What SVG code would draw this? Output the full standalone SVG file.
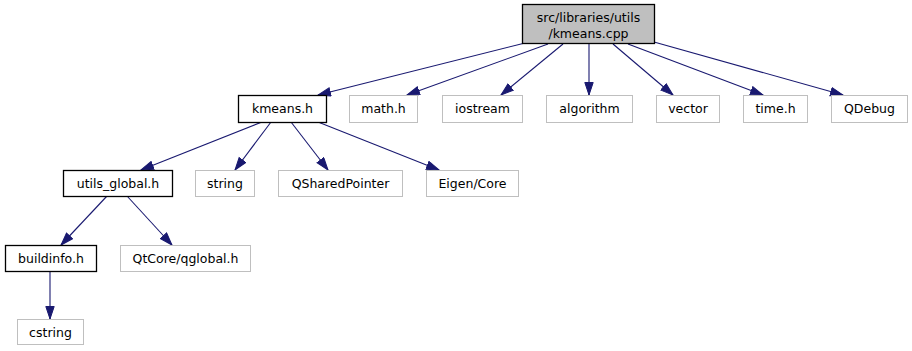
<svg xmlns="http://www.w3.org/2000/svg" width="912" height="351" viewBox="0 0 912 351">
<style>
  .bg { fill: #ffffff; }
  .n rect { fill: #ffffff; stroke: #bfbfbf; stroke-width: 1; }
  .n.main rect { stroke: #000000; stroke-width: 1.3; }
  .n.root rect { fill: #bfbfbf; stroke: #000000; stroke-width: 1.3; }
  text { font-family: "DejaVu Sans", "Liberation Sans", sans-serif; font-size: 12.5px; fill: #000000; text-anchor: middle; }
  #edges line { stroke: #191970; stroke-width: 1.1; fill: none; marker-end: url(#arrow); }
</style>
<defs>
  <marker id="arrow" markerUnits="userSpaceOnUse" markerWidth="14" markerHeight="10" refX="13" refY="4.7" orient="auto">
    <path d="M0.5,0.5 L13,4.7 L0.5,8.9 z" fill="#191970" stroke="#191970" stroke-width="1"/>
  </marker>
</defs>
<rect class="bg" x="0" y="0" width="912" height="351"/>

<g id="edges">
  <line x1="525" y1="43" x2="318" y2="95"/>
  <line x1="548" y1="44" x2="407" y2="95"/>
  <line x1="563" y1="44" x2="501" y2="95"/>
  <line x1="589" y1="44" x2="589" y2="95"/>
  <line x1="613" y1="44" x2="673" y2="95"/>
  <line x1="628" y1="44" x2="763" y2="95"/>
  <line x1="654" y1="42" x2="843" y2="95"/>
  <line x1="262" y1="122" x2="141" y2="170"/>
  <line x1="271" y1="122" x2="235" y2="170"/>
  <line x1="291" y1="122" x2="328" y2="170"/>
  <line x1="318" y1="122" x2="439" y2="170"/>
  <line x1="107" y1="196" x2="61" y2="245"/>
  <line x1="127" y1="196" x2="172" y2="245"/>
  <line x1="50" y1="271" x2="50" y2="319"/>
</g>

<g id="node-root" class="n root">
  <rect x="522.5" y="4.5" width="132" height="39"/>
  <text x="588.5" y="22">src/libraries/utils</text>
  <text x="588.5" y="38">/kmeans.cpp</text>
</g>
<g id="node-kmeans-h" class="n main">
  <rect x="238.5" y="95.5" width="88" height="27"/>
  <text x="282.5" y="113">kmeans.h</text>
</g>
<g id="node-math-h" class="n">
  <rect x="349.5" y="95.5" width="68" height="27"/>
  <text x="383.5" y="113">math.h</text>
</g>
<g id="node-iostream" class="n">
  <rect x="442.5" y="95.5" width="80" height="27"/>
  <text x="482.5" y="113">iostream</text>
</g>
<g id="node-algorithm" class="n">
  <rect x="546.5" y="95.5" width="86" height="27"/>
  <text x="589.5" y="113">algorithm</text>
</g>
<g id="node-vector" class="n">
  <rect x="656.5" y="95.5" width="63" height="27"/>
  <text x="688" y="113">vector</text>
</g>
<g id="node-time-h" class="n">
  <rect x="743.5" y="95.5" width="64" height="27"/>
  <text x="775.5" y="113">time.h</text>
</g>
<g id="node-qdebug" class="n">
  <rect x="831.5" y="95.5" width="76" height="27"/>
  <text x="869.5" y="113">QDebug</text>
</g>
<g id="node-utils-global-h" class="n main">
  <rect x="63.5" y="170.5" width="109" height="26"/>
  <text x="118" y="188">utils_global.h</text>
</g>
<g id="node-string" class="n">
  <rect x="195.5" y="170.5" width="59" height="26"/>
  <text x="225" y="188">string</text>
</g>
<g id="node-qsharedpointer" class="n">
  <rect x="278.5" y="170.5" width="124" height="26"/>
  <text x="340.5" y="188">QSharedPointer</text>
</g>
<g id="node-eigen-core" class="n">
  <rect x="426.5" y="170.5" width="92" height="26"/>
  <text x="472.5" y="188">Eigen/Core</text>
</g>
<g id="node-buildinfo-h" class="n main">
  <rect x="5.5" y="245.5" width="91" height="26"/>
  <text x="51" y="263">buildinfo.h</text>
</g>
<g id="node-qtcore-qglobal-h" class="n">
  <rect x="120.5" y="245.5" width="130" height="26"/>
  <text x="185.5" y="263">QtCore/qglobal.h</text>
</g>
<g id="node-cstring" class="n">
  <rect x="17.5" y="319.5" width="66" height="25"/>
  <text x="50.5" y="336.5">cstring</text>
</g>
</svg>
